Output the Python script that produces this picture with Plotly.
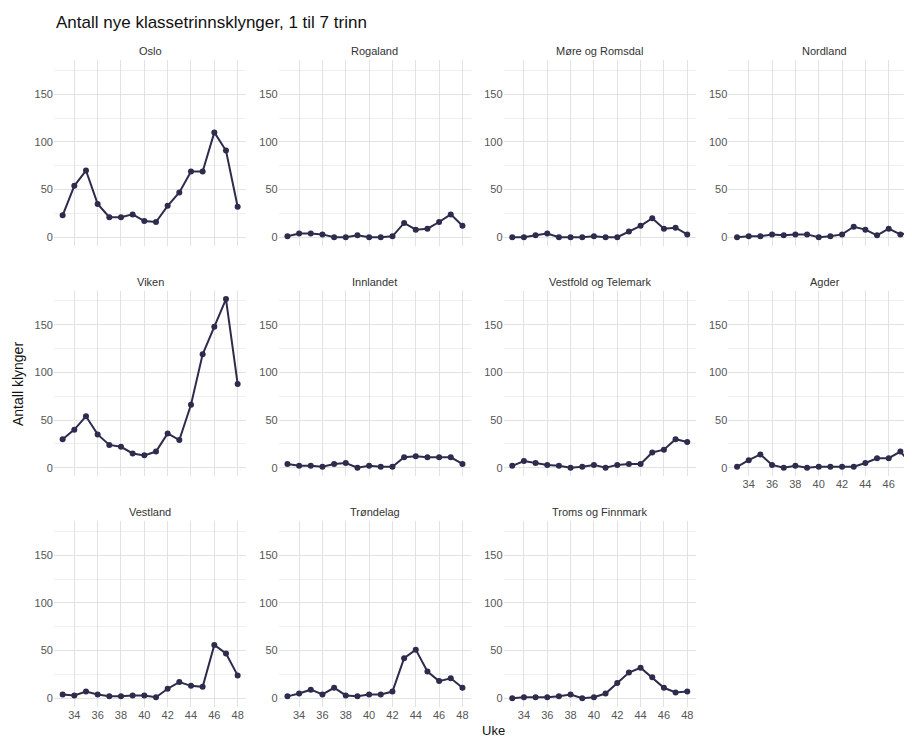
import plotly.graph_objects as go

weeks = list(range(33, 49))
regions = ["Oslo", "Rogaland", "Møre og Romsdal", "Nordland",
           "Viken", "Innlandet", "Vestfold og Telemark", "Agder",
           "Vestland", "Trøndelag", "Troms og Finnmark"]

oslo = [23, 54, 70, 35, 21, 21, 24, 17, 16, 33, 47, 69, 69, 110, 91, 32]
rogaland = [1, 4, 4, 3, 0, 0, 2, 0, 0, 1, 15, 8, 9, 16, 24, 12]
more_og_romsdal = [0, 0, 2, 4, 0, 0, 0, 1, 0, 0, 6, 12, 20, 9, 10, 3]
nordland = [0, 1, 1, 3, 2, 3, 3, 0, 1, 3, 11, 8, 2, 9, 3, 5]
viken = [30, 40, 54, 35, 24, 22, 15, 13, 17, 36, 29, 66, 119, 148, 177, 88]
innlandet = [4, 2, 2, 1, 4, 5, 0, 2, 1, 1, 11, 12, 11, 11, 11, 4]
vestfold_og_telemark = [2, 7, 5, 3, 2, 0, 1, 3, 0, 3, 4, 4, 16, 19, 30, 27]
agder = [1, 8, 14, 3, 0, 2, 0, 1, 1, 1, 1, 5, 10, 10, 17, 3]
vestland = [4, 3, 7, 4, 2, 2, 3, 3, 1, 10, 17, 13, 12, 56, 47, 24]
trondelag = [2, 5, 9, 4, 11, 3, 2, 4, 4, 7, 42, 51, 28, 18, 21, 11]
troms_og_finnmark = [0, 1, 1, 1, 2, 4, 0, 1, 5, 16, 27, 32, 22, 11, 6, 7]

series = [oslo, rogaland, more_og_romsdal, nordland, viken, innlandet,
          vestfold_og_telemark, agder, vestland, trondelag, troms_og_finnmark]

x_ticks = [34, 36, 38, 40, 42, 44, 46, 48]
y_ticks = [0, 50, 100, 150]

title_text = "Antall nye klassetrinnsklynger, 1 til 7 trinn"
y_title = "Antall klynger"
x_title = "Uke"

W, H = 912, 738
OFF = 8  # page body margin offset
FONT = "Liberation Sans, Arial, sans-serif"
LINE = "#2e2c4d"

# layout geometry (page pixels)
col_left0, col_step, col_w = 53.9, 224.8, 192.5
row_top0, row_step, row_h = 60.1, 230.5, 185.6
xr = [32.25, 48.75]
yr = [-8.85, 185.85]
px_per_week = col_w / (xr[1] - xr[0])


def fx(p):
    return (p - OFF) / W


def fy(p):
    return 1 - (p - OFF) / H


fig = go.Figure()
annotations = []
layout = {}

for i, (name, vals) in enumerate(zip(regions, series)):
    r, c = divmod(i, 4)
    left = col_left0 + col_step * c
    right = left + col_w
    rng = list(xr)
    if right - OFF > W:
        right = W + OFF
        rng = [xr[0], xr[0] + (right - left) / px_per_week]
    top = row_top0 + row_step * r
    bottom = top + row_h
    n = i + 1
    xa = "x" if n == 1 else f"x{n}"
    ya = "y" if n == 1 else f"y{n}"
    show_x = (r == 2) or (r == 1 and c == 3)
    fig.add_trace(go.Scatter(
        x=weeks, y=vals, mode="lines+markers", xaxis=xa, yaxis=ya,
        line=dict(color=LINE, width=2), marker=dict(color=LINE, size=6),
        showlegend=False, cliponaxis=True, hoverinfo="x+y"))
    layout[f"xaxis{n}"] = dict(
        domain=[fx(left), fx(right)], range=rng, anchor=ya,
        tickvals=x_ticks, showticklabels=show_x, ticks="",
        showgrid=True, gridcolor="#e2e2e2", gridwidth=1, zeroline=False,
        showline=False, automargin=False,
        tickfont=dict(family=FONT, size=11, color="#555555"),
        fixedrange=True)
    layout[f"yaxis{n}"] = dict(
        domain=[fy(bottom), fy(top)], range=yr, anchor=xa,
        tickvals=y_ticks, ticks="", showgrid=True, gridcolor="#e2e2e2",
        gridwidth=1, zeroline=False, showline=False, automargin=False,
        minor=dict(tickvals=[25, 75, 125, 175], showgrid=True,
                   gridcolor="#efefef", gridwidth=0.7),
        tickfont=dict(family=FONT, size=11, color="#555555"),
        fixedrange=True)
    annotations.append(dict(
        text=name, x=fx(left + col_w / 2), y=fy(top - 9),
        xref="paper", yref="paper", showarrow=False,
        xanchor="center", yanchor="middle",
        font=dict(family=FONT, size=11, color="#333333")))

annotations.append(dict(
    text=title_text, x=fx(54), y=fy(23), xref="paper", yref="paper",
    showarrow=False, xanchor="left", yanchor="middle",
    font=dict(family=FONT, size=17, color="#111111")))
annotations.append(dict(
    text=y_title, x=fx(18), y=fy(384), xref="paper", yref="paper",
    showarrow=False, textangle=-90, xanchor="center", yanchor="middle",
    font=dict(family=FONT, size=14, color="#111111")))
annotations.append(dict(
    text=x_title, x=fx(493), y=fy(730), xref="paper", yref="paper",
    showarrow=False, xanchor="center", yanchor="middle",
    font=dict(family=FONT, size=13, color="#111111")))

fig.update_layout(
    width=W, height=H, margin=dict(l=0, r=0, t=0, b=0),
    paper_bgcolor="white", plot_bgcolor="white",
    annotations=annotations, **layout)

fig.write_html("out.html")
